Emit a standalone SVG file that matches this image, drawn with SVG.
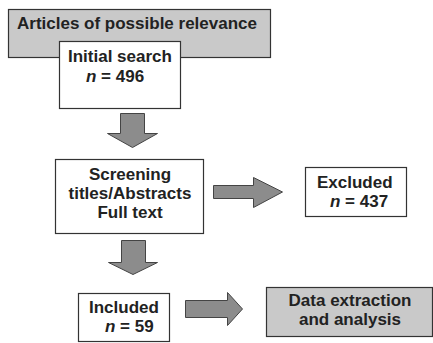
<svg xmlns="http://www.w3.org/2000/svg" width="433" height="343" viewBox="0 0 433 343">
<style>
.t{font-family:"Liberation Sans",Arial,sans-serif;font-weight:bold;font-size:17px;fill:#222}
.n{font-style:italic}
.w{fill:#fff;stroke:#333;stroke-width:1.2}
.g{fill:#c9c9c9;stroke:#333;stroke-width:1.2}
.a{fill:#8c8c8c;stroke:#444;stroke-width:1}
</style>
<rect width="433" height="343" fill="#fff"/>
<g id="articles">
<rect class="g" x="8.5" y="9.5" width="262" height="48"/>
<text class="t" x="17" y="29">Articles of possible relevance</text>
</g>
<g id="initial">
<rect class="w" x="59.5" y="41.5" width="121" height="67"/>
<text class="t" x="68" y="62">Initial search</text>
<text class="t" x="86" y="82"><tspan class="n">n</tspan> = 496</text>
</g>
<g id="screening">
<rect class="w" x="55.5" y="159.5" width="148" height="74"/>
<text class="t" x="130" y="180" text-anchor="middle">Screening</text>
<text class="t" x="130" y="199" text-anchor="middle">titles/Abstracts</text>
<text class="t" x="130" y="218" text-anchor="middle">Full text</text>
</g>
<g id="excluded">
<rect class="w" x="305.5" y="167.5" width="101" height="49"/>
<text class="t" x="317" y="188">Excluded</text>
<text class="t" x="330" y="207"><tspan class="n">n</tspan> = 437</text>
</g>
<g id="included">
<rect class="w" x="78.5" y="293.5" width="91" height="48"/>
<text class="t" x="89" y="313">Included</text>
<text class="t" x="105" y="332"><tspan class="n">n</tspan> = 59</text>
</g>
<g id="data">
<rect class="g" x="266.5" y="287.5" width="166" height="49"/>
<text class="t" x="350" y="306" text-anchor="middle">Data extraction</text>
<text class="t" x="350" y="325" text-anchor="middle">and analysis</text>
</g>
<g id="connectors">
<polygon class="a" points="120.5,113.5 144.5,113.5 144.5,133.5 157.5,133.5 132.5,147.5 107.5,133.5 120.5,133.5"/>
<polygon class="a" points="121.5,240.5 145.5,240.5 145.5,262.5 157.5,262.5 133,274.5 108.5,262.5 121.5,262.5"/>
<polygon class="a" points="213.5,185.5 253.5,185.5 253.5,177.5 282.5,192 253.5,207.5 253.5,198.5 213.5,198.5"/>
<polygon class="a" points="185.5,300.5 227.5,300.5 227.5,292.5 242.5,309 227.5,325.5 227.5,317.5 185.5,317.5"/>
</g>
</svg>
